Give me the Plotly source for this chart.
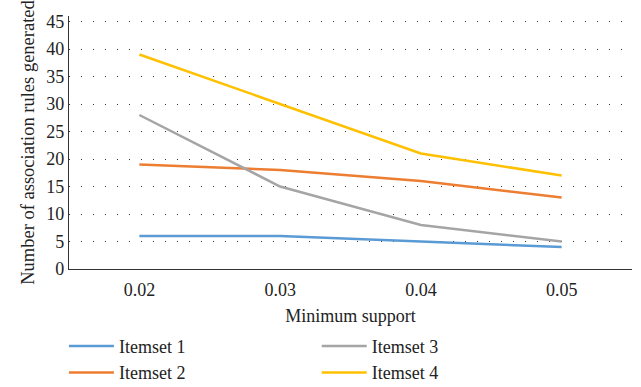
import plotly.graph_objects as go

categories = ["0.02", "0.03", "0.04", "0.05"]
itemset1 = [6, 6, 5, 4]
itemset2 = [19, 18, 16, 13]
itemset3 = [28, 15, 8, 5]
itemset4 = [39, 30, 21, 17]
y_ticks = [0, 5, 10, 15, 20, 25, 30, 35, 40, 45]

series = [
    ("Itemset 1", itemset1, "#5B9BD5", "legend"),
    ("Itemset 2", itemset2, "#ED7D31", "legend"),
    ("Itemset 3", itemset3, "#A5A5A5", "legend2"),
    ("Itemset 4", itemset4, "#FFC000", "legend2"),
]

FONT = "Liberation Serif, Times New Roman, serif"
TXT = "#222"
GRID_DASH = "1px,11px"

fig = go.Figure()
for name, vals, color, lg in series:
    fig.add_trace(go.Scatter(
        x=categories, y=vals, name=name, mode="lines",
        line=dict(color=color, width=2.5), legend=lg,
    ))

legend_style = dict(
    orientation="v", xanchor="left", yanchor="top", yref="container",
    font=dict(family=FONT, size=18, color=TXT),
    bgcolor="rgba(0,0,0,0)", tracegroupgap=0, itemwidth=45,
)

fig.update_layout(
    width=641, height=387,
    margin=dict(l=69, r=9, t=16, b=118, autoexpand=False),
    paper_bgcolor="white", plot_bgcolor="white",
    font=dict(family=FONT, size=18, color=TXT),
    showlegend=True,
    legend=dict(x=-0.009, y=0.153, **legend_style),
    legend2=dict(x=0.44, y=0.153, **legend_style),
    xaxis=dict(
        type="category", range=[-0.5, 3.5],
        showline=True, linecolor="#333", linewidth=1.2,
        showgrid=False, ticks="", zeroline=False, ticklabelstandoff=4,
        tickfont=dict(family=FONT, size=18, color=TXT),
        title=dict(text="Minimum support", font=dict(family=FONT, size=18, color=TXT), standoff=10),
    ),
    yaxis=dict(
        range=[0, 46], tickvals=y_ticks,
        showline=True, linecolor="#333", linewidth=1.2,
        showgrid=True, gridcolor="#333", gridwidth=1, griddash=GRID_DASH,
        zeroline=False, ticks="",
        tickfont=dict(family=FONT, size=18, color=TXT),
        title=dict(text="Number of association rules generated", font=dict(family=FONT, size=18.5, color=TXT), standoff=6),
    ),
)

fig.write_html("out.html")
